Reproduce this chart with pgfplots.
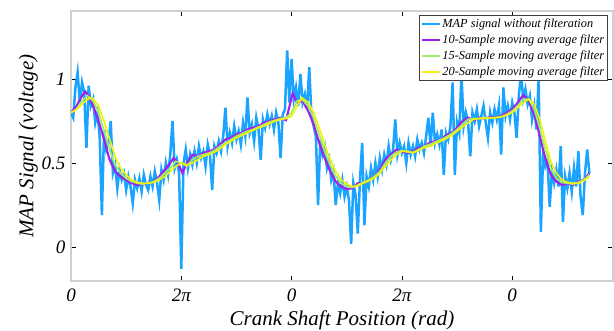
\documentclass[border=0pt]{standalone}
\usepackage{pgfplots}
\pgfplotsset{compat=1.18}
\usepackage{fontspec}
\setmainfont{Liberation Serif}

\definecolor{rawblue}{HTML}{1AA3FF}
\definecolor{ma10}{HTML}{A31FF0}
\definecolor{ma15}{HTML}{9EEE6A}
\definecolor{ma20}{HTML}{F2F210}
\definecolor{boxgray}{HTML}{CFCFCF}
\definecolor{legframe}{HTML}{404040}

\begin{document}
\begin{tikzpicture}
\begin{axis}[
  scale only axis,
  width=542pt, height=270pt,
  xmin=0, xmax=4.914,
  ymin=-0.202, ymax=1.405,
  xtick={0,1,2,3,4},
  xticklabels={0,2π,0,2π,0},
  ytick={0,0.5,1},
  /pgf/number format/assume math mode=true,
  tick align=inside,
  major tick length=5pt,
  tick style={black, line width=0.6pt},
  axis line style={boxgray, line width=1.6pt},
  ticklabel style={font=\itshape\fontsize{19}{19}\selectfont},
  xticklabel style={yshift=-4pt},
  yticklabel style={xshift=-2pt},
  xlabel={Crank Shaft Position (rad)},
  ylabel={MAP Signal (voltage)},
  xlabel style={font=\itshape\fontsize{21}{21}\selectfont, yshift=-2pt},
  ylabel style={font=\itshape\fontsize{21}{21}\selectfont, yshift=-3pt},
  legend style={at={(1,1)}, anchor=north east, xshift=-5pt, yshift=-4pt,
    draw=legframe, line width=0.9pt, inner sep=1.5pt,
    font=\itshape\fontsize{12.3}{14}\selectfont,
    row sep=1.8pt, cells={anchor=west}},
  legend image code/.code={\draw[#1, line width=1.4pt] (0pt,0pt) -- (18pt,0pt);},
  legend cell align=left,
]
% raw manifold pressure samples
\addplot[rawblue, line width=2.5pt] coordinates {
(0.00,0.80) (0.02,0.77) (0.04,0.95) (0.06,1.04) (0.08,0.86) (0.10,0.98) (0.12,0.92) (0.14,0.59)
(0.16,0.96) (0.18,0.84) (0.20,0.88) (0.22,0.74) (0.24,0.80) (0.26,0.66) (0.28,0.19) (0.30,0.70)
(0.32,0.58) (0.34,0.62) (0.36,0.75) (0.38,0.44) (0.40,0.49) (0.42,0.35) (0.44,0.46) (0.46,0.40)
(0.48,0.44) (0.50,0.34) (0.52,0.42) (0.54,0.36) (0.56,0.26) (0.58,0.40) (0.60,0.35) (0.62,0.41)
(0.64,0.33) (0.66,0.43) (0.68,0.37) (0.70,0.34) (0.72,0.42) (0.74,0.36) (0.76,0.45) (0.78,0.38)
(0.80,0.28) (0.82,0.46) (0.84,0.40) (0.86,0.50) (0.88,0.43) (0.90,0.55) (0.92,0.75) (0.94,0.47)
(0.96,0.52) (0.98,0.44) (1.00,-0.13) (1.02,0.50) (1.04,0.58) (1.06,0.47) (1.08,0.55) (1.10,0.49)
(1.12,0.57) (1.14,0.50) (1.16,0.60) (1.18,0.53) (1.20,0.57) (1.22,0.48) (1.24,0.61) (1.26,0.55)
(1.28,0.34) (1.30,0.60) (1.32,0.56) (1.34,0.63) (1.36,0.57) (1.38,0.66) (1.40,0.83) (1.42,0.60)
(1.44,0.68) (1.46,0.62) (1.48,0.72) (1.50,0.64) (1.52,0.69) (1.54,0.61) (1.56,0.74) (1.58,0.66)
(1.60,0.89) (1.62,0.68) (1.64,0.73) (1.66,0.63) (1.68,0.77) (1.70,0.70) (1.72,0.52) (1.74,0.76)
(1.76,0.71) (1.78,0.79) (1.80,0.73) (1.82,0.78) (1.84,0.70) (1.86,0.80) (1.88,0.74) (1.90,0.53)
(1.92,0.79) (1.94,0.82) (1.96,1.17) (1.98,0.86) (2.00,1.12) (2.02,0.88) (2.04,0.95) (2.06,0.84)
(2.08,1.03) (2.10,0.86) (2.12,0.91) (2.14,0.82) (2.16,1.07) (2.18,0.78) (2.20,0.72) (2.22,0.66)
(2.24,0.25) (2.26,0.64) (2.28,0.55) (2.30,0.60) (2.32,0.47) (2.34,0.52) (2.36,0.40) (2.38,0.45)
(2.40,0.25) (2.42,0.38) (2.44,0.32) (2.46,0.40) (2.48,0.30) (2.50,0.36) (2.52,0.28) (2.54,0.02)
(2.56,0.38) (2.58,0.31) (2.60,0.08) (2.62,0.40) (2.64,0.62) (2.66,0.13) (2.68,0.42) (2.70,0.36)
(2.72,0.47) (2.74,0.40) (2.76,0.50) (2.78,0.42) (2.80,0.53) (2.82,0.46) (2.84,0.55) (2.86,0.49)
(2.88,0.60) (2.90,0.52) (2.92,0.58) (2.94,0.76) (2.96,0.55) (2.98,0.62) (3.00,0.56) (3.02,0.60)
(3.04,0.50) (3.06,0.62) (3.08,0.55) (3.10,0.60) (3.12,0.54) (3.14,0.64) (3.16,0.58) (3.18,0.62)
(3.20,0.56) (3.22,0.66) (3.24,0.77) (3.26,0.60) (3.28,0.80) (3.30,0.62) (3.32,0.67) (3.34,0.61)
(3.36,0.70) (3.38,0.43) (3.40,0.68) (3.42,0.64) (3.44,0.72) (3.46,0.98) (3.48,0.43) (3.50,0.74)
(3.52,0.68) (3.54,1.03) (3.56,0.72) (3.58,0.80) (3.60,0.74) (3.62,0.54) (3.64,0.80) (3.66,0.75)
(3.68,0.82) (3.70,0.72) (3.72,0.78) (3.74,0.84) (3.76,0.74) (3.78,0.65) (3.80,0.80) (3.82,0.74)
(3.84,0.82) (3.86,0.76) (3.88,0.84) (3.90,0.55) (3.92,0.95) (3.94,0.78) (3.96,0.84) (3.98,0.76)
(4.00,0.86) (4.02,0.80) (4.04,0.65) (4.06,0.90) (4.08,1.03) (4.10,0.88) (4.12,0.94) (4.14,0.85)
(4.16,0.90) (4.18,0.76) (4.20,0.84) (4.22,0.70) (4.24,1.00) (4.26,0.09) (4.28,0.55) (4.30,0.48)
(4.32,0.52) (4.34,0.24) (4.36,0.45) (4.38,0.38) (4.40,0.46) (4.42,0.36) (4.44,0.60) (4.46,0.15)
(4.48,0.42) (4.50,0.35) (4.52,0.44) (4.54,0.33) (4.56,0.47) (4.58,0.36) (4.60,0.57) (4.62,0.30)
(4.64,0.19) (4.66,0.44) (4.68,0.58) (4.70,0.44)
};
\addlegendentry{MAP signal without filteration}
% 10-sample moving average
\addplot[ma10, line width=2.1pt] coordinates {
(0.00,0.80) (0.05,0.84) (0.10,0.90) (0.13,0.925) (0.16,0.90) (0.20,0.84) (0.25,0.75) (0.30,0.64)
(0.35,0.52) (0.40,0.45) (0.45,0.42) (0.50,0.40) (0.55,0.38) (0.60,0.37) (0.65,0.375) (0.70,0.38)
(0.75,0.39) (0.80,0.42) (0.85,0.46) (0.90,0.50) (0.93,0.53) (0.97,0.50) (1.01,0.44) (1.05,0.50)
(1.10,0.55) (1.15,0.54) (1.20,0.56) (1.25,0.57) (1.30,0.58) (1.35,0.61) (1.40,0.64) (1.45,0.65)
(1.50,0.67) (1.55,0.68) (1.60,0.70) (1.65,0.71) (1.70,0.72) (1.75,0.74) (1.80,0.75) (1.85,0.76)
(1.90,0.77) (1.95,0.755) (2.01,0.915) (2.05,0.86) (2.10,0.87) (2.15,0.81) (2.20,0.73) (2.25,0.62)
(2.30,0.53) (2.35,0.45) (2.40,0.39) (2.45,0.36) (2.50,0.345) (2.55,0.35) (2.60,0.38) (2.65,0.38)
(2.70,0.40) (2.75,0.42) (2.80,0.46) (2.85,0.52) (2.90,0.55) (2.95,0.58) (3.00,0.57) (3.05,0.56)
(3.10,0.57) (3.15,0.59) (3.20,0.60) (3.25,0.62) (3.30,0.63) (3.35,0.64) (3.40,0.665) (3.45,0.68)
(3.50,0.71) (3.55,0.75) (3.60,0.77) (3.65,0.755) (3.70,0.77) (3.75,0.765) (3.80,0.775) (3.85,0.77)
(3.90,0.78) (3.95,0.80) (4.00,0.82) (4.05,0.86) (4.10,0.905) (4.15,0.87) (4.20,0.79) (4.25,0.66)
(4.30,0.53) (4.35,0.43) (4.40,0.39) (4.45,0.37) (4.50,0.38) (4.55,0.37) (4.60,0.39) (4.65,0.40)
(4.70,0.44)
};
\addlegendentry{10-Sample moving average filter}
% 15-sample moving average
\addplot[ma15, line width=1.7pt] coordinates {
(0.00,0.80) (0.05,0.82) (0.10,0.87) (0.15,0.90) (0.20,0.87) (0.25,0.80) (0.30,0.69) (0.35,0.58)
(0.40,0.49) (0.45,0.44) (0.50,0.41) (0.55,0.39) (0.60,0.38) (0.65,0.375) (0.70,0.38) (0.75,0.39)
(0.80,0.41) (0.85,0.44) (0.90,0.47) (0.95,0.51) (1.00,0.50) (1.05,0.48) (1.10,0.52) (1.15,0.54)
(1.20,0.55) (1.25,0.56) (1.30,0.575) (1.35,0.60) (1.40,0.62) (1.45,0.64) (1.50,0.66) (1.55,0.675)
(1.60,0.69) (1.65,0.70) (1.70,0.715) (1.75,0.73) (1.80,0.745) (1.85,0.755) (1.90,0.765) (1.95,0.77)
(2.00,0.80) (2.05,0.87) (2.10,0.875) (2.15,0.84) (2.20,0.77) (2.25,0.67) (2.30,0.57) (2.35,0.49)
(2.40,0.42) (2.45,0.38) (2.50,0.36) (2.55,0.355) (2.60,0.37) (2.65,0.385) (2.70,0.40) (2.75,0.42)
(2.80,0.45) (2.85,0.50) (2.90,0.54) (2.95,0.565) (3.00,0.575) (3.05,0.565) (3.10,0.565) (3.15,0.58)
(3.20,0.60) (3.25,0.61) (3.30,0.625) (3.35,0.64) (3.40,0.655) (3.45,0.675) (3.50,0.70) (3.55,0.73)
(3.60,0.76) (3.65,0.765) (3.70,0.765) (3.75,0.77) (3.80,0.77) (3.85,0.77) (3.90,0.775) (3.95,0.79)
(4.00,0.81) (4.05,0.84) (4.10,0.88) (4.15,0.88) (4.20,0.82) (4.25,0.71) (4.30,0.58) (4.35,0.47)
(4.40,0.41) (4.45,0.385) (4.50,0.38) (4.55,0.375) (4.60,0.385) (4.65,0.40) (4.70,0.43)
};
\addlegendentry{15-Sample moving average filter}
% 20-sample moving average
\addplot[ma20, line width=1.7pt] coordinates {
(0.00,0.80) (0.05,0.82) (0.10,0.85) (0.15,0.88) (0.19,0.89) (0.25,0.84) (0.30,0.75) (0.35,0.64)
(0.40,0.54) (0.45,0.47) (0.50,0.43) (0.55,0.40) (0.60,0.385) (0.65,0.38) (0.70,0.38) (0.75,0.385)
(0.80,0.40) (0.85,0.42) (0.90,0.45) (0.95,0.48) (1.00,0.50) (1.05,0.49) (1.10,0.50) (1.15,0.52)
(1.20,0.54) (1.25,0.55) (1.30,0.565) (1.35,0.585) (1.40,0.61) (1.45,0.63) (1.50,0.65) (1.55,0.665)
(1.60,0.68) (1.65,0.695) (1.70,0.71) (1.75,0.72) (1.80,0.735) (1.85,0.75) (1.90,0.76) (1.95,0.765)
(2.00,0.78) (2.05,0.84) (2.09,0.89) (2.15,0.86) (2.20,0.80) (2.25,0.71) (2.30,0.61) (2.35,0.52)
(2.40,0.45) (2.45,0.40) (2.50,0.375) (2.55,0.36) (2.60,0.365) (2.65,0.38) (2.70,0.395) (2.75,0.41)
(2.80,0.44) (2.85,0.48) (2.90,0.52) (2.95,0.55) (3.00,0.57) (3.05,0.57) (3.10,0.56) (3.15,0.575)
(3.20,0.59) (3.25,0.60) (3.30,0.615) (3.35,0.63) (3.40,0.645) (3.45,0.665) (3.50,0.69) (3.55,0.715)
(3.60,0.74) (3.65,0.76) (3.70,0.765) (3.75,0.765) (3.80,0.77) (3.85,0.77) (3.90,0.775) (3.95,0.785)
(4.00,0.80) (4.05,0.83) (4.10,0.86) (4.15,0.88) (4.20,0.85) (4.25,0.76) (4.30,0.63) (4.35,0.51)
(4.40,0.44) (4.45,0.40) (4.50,0.385) (4.55,0.38) (4.60,0.38) (4.65,0.395) (4.70,0.42)
};
\addlegendentry{20-Sample moving average filter}
\end{axis}
\pgfresetboundingbox
\path ([shift={(-71pt,-49pt)}]current axis.south west) rectangle ([shift={(1pt,11pt)}]current axis.north east);
\end{tikzpicture}
\end{document}
